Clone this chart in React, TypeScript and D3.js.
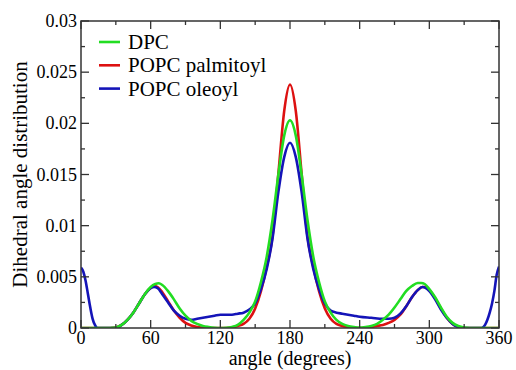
import React from "react";
import * as d3 from "d3";

// angle (deg), distribution value
const dpc: [number, number][] = [
  [0, 0], [25, 0], [30, 0.00005], [35, 0.0003], [40, 0.0008], [45, 0.0015], [50, 0.0024],
  [55, 0.0033], [60, 0.004], [64, 0.0043], [67, 0.00437], [70, 0.0042], [75, 0.0036],
  [80, 0.0028], [85, 0.0019], [90, 0.0012], [95, 0.0007], [100, 0.0004], [105, 0.0002],
  [110, 0.0001], [115, 0.00003], [120, 0], [125, 0.00002], [130, 0.0001], [135, 0.0003],
  [140, 0.0008], [145, 0.0015], [150, 0.0026], [155, 0.0045], [160, 0.007], [165, 0.0106],
  [170, 0.015], [175, 0.0188], [180, 0.0203], [185, 0.0188], [190, 0.015], [195, 0.0106],
  [200, 0.007], [205, 0.0045], [210, 0.0026], [215, 0.0015], [220, 0.0008], [225, 0.0004],
  [230, 0.0002], [235, 0.0001], [240, 0.00005], [245, 0.0001], [250, 0.0002], [255, 0.0004],
  [260, 0.0008], [265, 0.0013], [270, 0.002], [275, 0.0028], [280, 0.0036], [285, 0.0041],
  [290, 0.0044], [293, 0.0044], [296, 0.0043], [300, 0.0038], [305, 0.003], [310, 0.002],
  [315, 0.0011], [320, 0.0005], [325, 0.0002], [330, 0.00005], [335, 0], [360, 0],
];

const popcPalmitoyl: [number, number][] = [
  [0, 0], [25, 0], [30, 0.00005], [35, 0.0003], [40, 0.0008], [45, 0.0015], [50, 0.0024],
  [55, 0.0033], [60, 0.0039], [63, 0.0041], [66, 0.004], [70, 0.0035], [75, 0.0026],
  [80, 0.0017], [85, 0.001], [90, 0.0005], [95, 0.00025], [100, 0.0001], [105, 0.00003],
  [110, 0], [125, 0], [130, 0.00005], [135, 0.0002], [140, 0.0004], [145, 0.0009],
  [150, 0.0019], [155, 0.0036], [160, 0.006], [165, 0.009], [170, 0.0151], [175, 0.0212],
  [180, 0.0238], [185, 0.0212], [190, 0.0151], [195, 0.009], [200, 0.006], [205, 0.0036],
  [210, 0.0019], [215, 0.0009], [220, 0.0004], [225, 0.0002], [230, 0.0001], [235, 0.00003],
  [240, 0], [245, 0.00005], [250, 0.0001], [255, 0.0002], [260, 0.0003], [265, 0.0005],
  [270, 0.0008], [275, 0.0013], [280, 0.0021], [285, 0.003], [290, 0.0037], [294, 0.004],
  [297, 0.004], [300, 0.0037], [305, 0.0029], [310, 0.0019], [315, 0.001], [320, 0.0004],
  [325, 0.0001], [330, 0], [360, 0],
];

const popcOleoyl: [number, number][] = [
  [0, 0.0059], [2, 0.0055], [4, 0.0046], [6, 0.0033], [8, 0.002], [10, 0.0009], [12, 0.0003],
  [14, 0], [30, 0], [35, 0.0003], [40, 0.0008], [45, 0.0015], [50, 0.0024], [55, 0.0033],
  [60, 0.0039], [63, 0.004], [66, 0.0039], [70, 0.0033], [75, 0.0025], [80, 0.0017],
  [85, 0.0012], [90, 0.0009], [95, 0.0008], [100, 0.0009], [105, 0.001], [110, 0.0011],
  [115, 0.0012], [120, 0.0013], [130, 0.0013], [135, 0.0014], [140, 0.0015], [145, 0.0018],
  [150, 0.0024], [155, 0.0038], [160, 0.0058], [165, 0.0088], [170, 0.0133], [175, 0.0167],
  [180, 0.0181], [185, 0.0167], [190, 0.0133], [195, 0.0088], [200, 0.0058], [205, 0.0038],
  [210, 0.0024], [215, 0.0017], [220, 0.0015], [225, 0.0014], [230, 0.0013], [235, 0.0012],
  [240, 0.0011], [250, 0.001], [260, 0.0009], [265, 0.0009], [270, 0.001], [275, 0.0014],
  [280, 0.0021], [285, 0.003], [290, 0.0037], [294, 0.004], [297, 0.0039], [300, 0.0036],
  [305, 0.0028], [310, 0.0018], [315, 0.001], [320, 0.0004], [325, 0.0001], [330, 0],
  [345, 0], [348, 0.0003], [350, 0.0008], [352, 0.0015], [354, 0.0024], [356, 0.0036],
  [358, 0.0052], [360, 0.006],
];

const xTicks = [0, 60, 120, 180, 240, 300, 360];
const xMinor = [30, 90, 150, 210, 270, 330];
const yTicks = [0, 0.005, 0.01, 0.015, 0.02, 0.025, 0.03];
const yTickLabels = ["0", "0.005", "0.01", "0.015", "0.02", "0.025", "0.03"];
const yMinor = [0.0025, 0.0075, 0.0125, 0.0175, 0.0225, 0.0275];

const series = [
  { name: "DPC", color: "#22dd22", data: dpc },
  { name: "POPC palmitoyl", color: "#dd1111", data: popcPalmitoyl },
  { name: "POPC oleoyl", color: "#1414b8", data: popcOleoyl },
];
// red under blue under green
const drawOrder = [1, 2, 0];

const W = 516;
const H = 370;
const margin = { left: 81, right: 17, top: 21, bottom: 42 };
const serif = {
  fontFamily:
    '"Liberation Serif", "Times New Roman", Times, "DejaVu Serif", "Noto Serif", serif',
};

export default function App() {
  const x = d3.scaleLinear().domain([0, 360]).range([margin.left, W - margin.right]);
  const y = d3.scaleLinear().domain([0, 0.03]).range([H - margin.bottom, margin.top]);
  const line = d3
    .line<[number, number]>()
    .x((d) => x(d[0]))
    .y((d) => y(d[1]))
    .curve(d3.curveMonotoneX);

  const [x0, x1] = x.range();
  const [yb, yt] = y.range();
  const axisColor = "#333";
  const major = 8;
  const minor = 4;

  return (
    <svg
      width={W}
      height={H}
      style={{ position: "absolute", left: 0, top: 0, background: "#fff" }}
    >
      <defs>
        <clipPath id="plot">
          <rect x={x0} y={yt} width={x1 - x0} height={yb - yt} />
        </clipPath>
      </defs>

      <g clipPath="url(#plot)">
        {drawOrder.map((i) => (
          <path
            key={series[i].name}
            d={line(series[i].data) || ""}
            fill="none"
            stroke={series[i].color}
            strokeWidth={2.6}
            strokeLinejoin="round"
          />
        ))}
      </g>

      {/* ticks on all four sides, pointing inward */}
      <g stroke={axisColor} strokeWidth={1.3}>
        {xTicks.map((t) => (
          <g key={"xt" + t}>
            <line x1={x(t)} x2={x(t)} y1={yb} y2={yb - major} />
            <line x1={x(t)} x2={x(t)} y1={yt} y2={yt + major} />
          </g>
        ))}
        {xMinor.map((t) => (
          <g key={"xm" + t}>
            <line x1={x(t)} x2={x(t)} y1={yb} y2={yb - minor} />
            <line x1={x(t)} x2={x(t)} y1={yt} y2={yt + minor} />
          </g>
        ))}
        {yTicks.map((t) => (
          <g key={"yt" + t}>
            <line x1={x0} x2={x0 + major} y1={y(t)} y2={y(t)} />
            <line x1={x1} x2={x1 - major} y1={y(t)} y2={y(t)} />
          </g>
        ))}
        {yMinor.map((t) => (
          <g key={"ym" + t}>
            <line x1={x0} x2={x0 + minor} y1={y(t)} y2={y(t)} />
            <line x1={x1} x2={x1 - minor} y1={y(t)} y2={y(t)} />
          </g>
        ))}
      </g>
      <rect
        x={x0}
        y={yt}
        width={x1 - x0}
        height={yb - yt}
        fill="none"
        stroke={axisColor}
        strokeWidth={1.5}
      />

      {/* tick labels */}
      <g fontSize={18} fill="#000">
        {xTicks.map((t) => (
          <text key={"xl" + t} x={x(t)} y={yb + 16} textAnchor="middle" style={serif}>
            {t}
          </text>
        ))}
        {yTicks.map((t, i) => (
          <text key={"yl" + t} x={x0 - 4} y={y(t) + 6} textAnchor="end" style={serif}>
            {yTickLabels[i]}
          </text>
        ))}
      </g>

      {/* axis titles */}
      <text x={(x0 + x1) / 2} y={365} fontSize={20} textAnchor="middle" style={serif}>
        angle (degrees)
      </text>
      <text
        transform={`translate(27, ${(yt + yb) / 2}) rotate(-90)`}
        fontSize={21}
        textAnchor="middle"
        style={serif}
      >
        Dihedral angle distribution
      </text>

      {/* legend */}
      <g>
        {series.map((s, i) => (
          <g key={"lg" + s.name} transform={`translate(0, ${42 + i * 23.3})`}>
            <line x1={99} x2={120} y1={0} y2={0} stroke={s.color} strokeWidth={2.6} />
            <text x={128} y={7} fontSize={21} style={serif}>
              {s.name}
            </text>
          </g>
        ))}
      </g>
    </svg>
  );
}
